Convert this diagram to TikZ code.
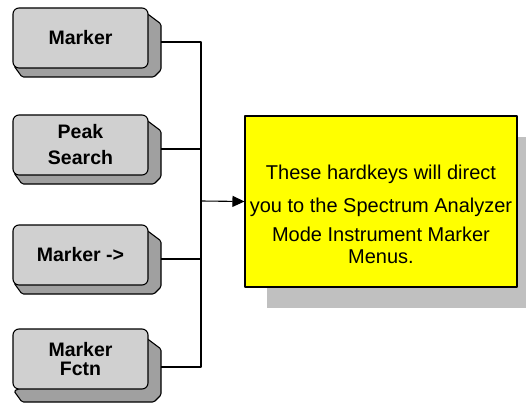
\documentclass[tikz,border=0pt]{standalone}
\usepackage{fontspec}
\setmainfont{Liberation Sans}
\usetikzlibrary{arrows.meta,shadows}
\definecolor{keygray}{RGB}{208,208,208}
\definecolor{sidegray}{RGB}{160,160,160}
\definecolor{notegray}{RGB}{192,192,192}
\definecolor{noteyellow}{RGB}{255,255,0}
% one hard key: name, top edge, extra node options, label
\newcommand{\hardkey}[4]{%
  \draw[keyside] (141,#2+1) -- (161,#2+16) -- (161,#2+62) -- (154,#2+69)
    -- (22,#2+69) -- (14,#2+58) -- cycle;
  \node[keyface,#3] (#1) at (80.5,#2+30) {#4};
  \coordinate (#1-r) at (161,#2+34);
}
\begin{document}
\begin{tikzpicture}[x=1pt,y=-1pt,line width=1.1pt,line join=round,
    keyface/.style={draw,fill=keygray,rounded corners=6pt,minimum width=135pt,
      minimum height=60pt,inner sep=0pt,align=center,
      font=\bfseries\fontsize{19.5}{26}\selectfont},
    keyside/.style={fill=sidegray,rounded corners=1.5pt},
    note/.style={draw,fill=noteyellow,minimum width=272pt,minimum height=171pt,
      drop shadow={shadow xshift=22pt,shadow yshift=-21pt,fill=notegray,opacity=1}},
    >={Triangle[length=12pt,width=11pt]}]
  \useasboundingbox (0,0) rectangle (526,403);
  % hard keys
  \hardkey{marker}{8}{}{Marker}
  \hardkey{peak}{115}{}{Peak\\Search}
  \hardkey{markerto}{225}{}{Marker ->}
  \hardkey{fctn}{333}{font=\bfseries\fontsize{19.5}{19}\selectfont,yshift=4pt}{Marker\\Fctn}
  % note box
  \node[note] (note) at (381,201.5) {};
  \node[align=center,font=\fontsize{20}{24}\selectfont] (notetext) at (381,214)
    {These hardkeys will direct\\[9pt]
     you to the Spectrum Analyzer\\[5pt]
     Mode Instrument Marker\\[-2pt]
     Menus.};
  % connectors
  \coordinate (join) at (201,201);
  \draw (marker-r) -| (join);
  \draw (peak-r) -| (join);
  \draw (markerto-r) -| (join);
  \draw (fctn-r) -| (join);
  \draw[->] (join) -- (note.west);
\end{tikzpicture}
\end{document}
